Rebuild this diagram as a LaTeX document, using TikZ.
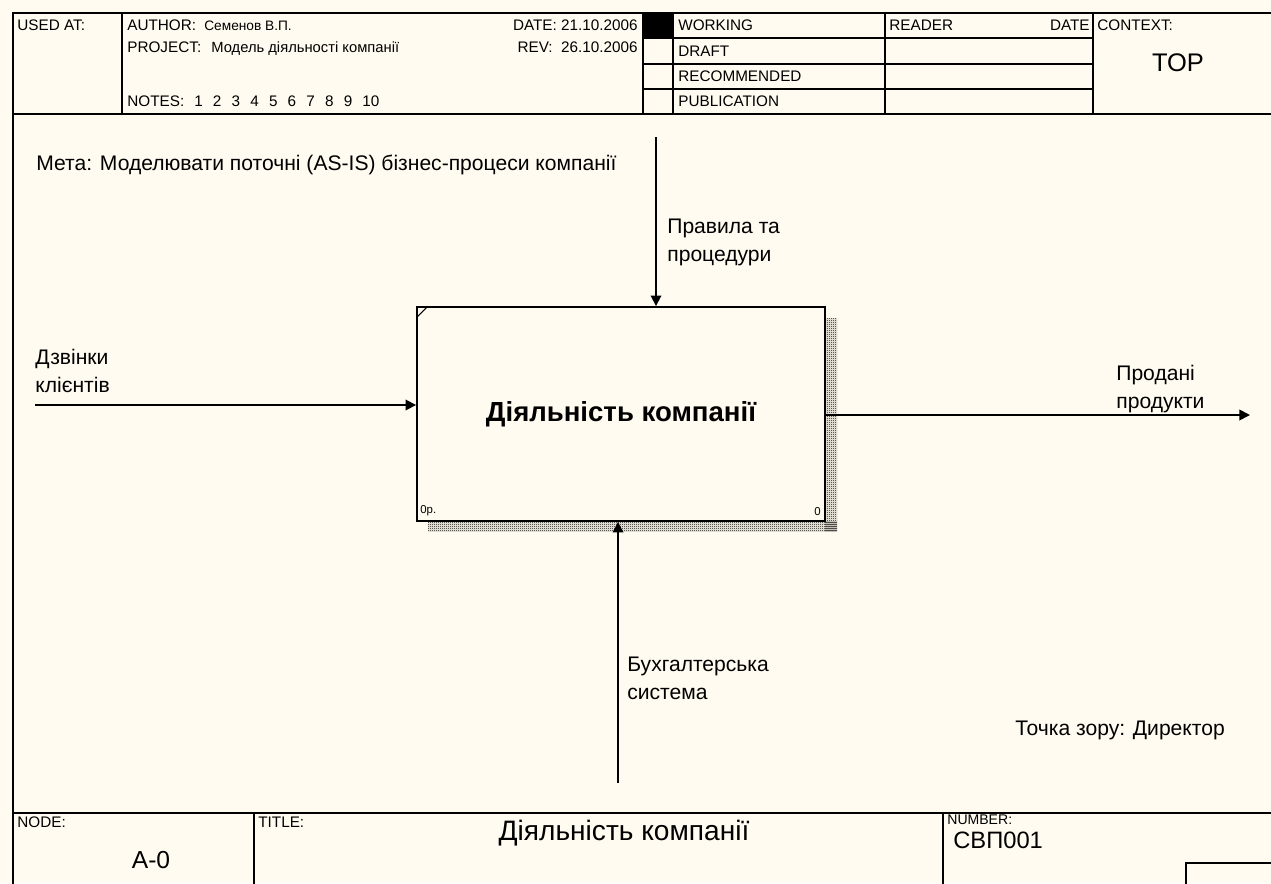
\documentclass[tikz,border=0pt]{standalone}
\usepackage{fontspec}
\setmainfont{Liberation Sans}
\usetikzlibrary{arrows.meta,patterns}
\definecolor{bgc}{RGB}{255,251,240}
\pgfdeclarepatternformonly{finecheck}{\pgfpointorigin}{\pgfpoint{1.14pt}{1.14pt}}{\pgfpoint{1.14pt}{1.14pt}}{%
  \pgfpathrectangle{\pgfpointorigin}{\pgfpoint{0.57pt}{0.57pt}}%
  \pgfpathrectangle{\pgfpoint{0.57pt}{0.57pt}}{\pgfpoint{0.57pt}{0.57pt}}%
  \pgfusepath{fill}}
\tikzset{
  hdr/.style={font=\fontsize{8.7}{10}\selectfont, anchor=west, inner sep=0pt},
  hdrr/.style={font=\fontsize{8.7}{10}\selectfont, anchor=east, inner sep=0pt},
  hdrv/.style={font=\fontsize{8.4}{9}\selectfont, anchor=base west, inner sep=0pt},
  lbl/.style={font=\fontsize{12}{15.9}\selectfont, anchor=north west, align=left, inner sep=0pt},
  big/.style={font=\fontsize{16}{18}\selectfont, inner sep=0pt},
  frm/.style={line width=1.1pt},
  arr/.style={line width=1pt, -{Triangle[length=6pt,width=6pt]}},
  actbox/.style={draw, line width=1.1pt, fill=bgc, minimum width=8.16cm, minimum height=4.28cm, inner sep=0pt,
    font=\bfseries\fontsize{15.7}{18}\selectfont},
}
\begin{document}
\begin{tikzpicture}[x=0.02cm,y=-0.02cm]
\useasboundingbox (0,0) rectangle (1271,883);
\clip (0,0) rectangle (1271,883);
\fill[bgc] (0,0) rectangle (1271,883);
% frame
\draw[frm] (13,13) rectangle (1300,900);
\draw[frm] (13,114) -- (1300,114);
\draw[frm] (122,13) -- (122,114);
\draw[frm] (643,13) -- (643,114);
\draw[frm] (673,13) -- (673,114);
\draw[frm] (885,13) -- (885,114);
\draw[frm] (1093,13) -- (1093,114);
\foreach \yy in {38,64,89} \draw[frm] (643,\yy) -- (1093,\yy);
\fill (643,13) rectangle (673,38);
% header texts
\node[hdr] (usedat) at (17,25) {USED AT:};
\node[hdr] (author) at (127,25) {AUTHOR:};
\node[hdrv, font=\fontsize{7.8}{9}\selectfont] (authorv) at (204,30.5) {Семенов В.П.};
\node[hdr] (project) at (127,47) {PROJECT:};
\node[hdrv] (projectv) at (211,52.5) {Модель діяльності компанії};
\node[hdr] (notes) at (127,101) {NOTES:\hspace{5.7pt}1\hspace{5.8pt}2\hspace{5.8pt}3\hspace{5.8pt}4\hspace{5.8pt}5\hspace{5.8pt}6\hspace{5.8pt}7\hspace{5.8pt}8\hspace{5.8pt}9\hspace{5.8pt}10};
\node[hdrr] (date) at (638,25) {DATE: 21.10.2006};
\node[hdrr] (rev) at (638,47) {REV:\ \ 26.10.2006};
\node[hdr] (working) at (678,25) {WORKING};
\node[hdr] (draft) at (678,51) {DRAFT};
\node[hdr] (recom) at (678,76) {RECOMMENDED};
\node[hdr] (publ) at (678,101) {PUBLICATION};
\node[hdr] (reader) at (889,25) {READER};
\node[hdrr] (rdate) at (1090,25) {DATE};
\node[hdr] (context) at (1097,25) {CONTEXT:};
\node[font=\fontsize{14.5}{16}\selectfont, inner sep=0pt] (top) at (1178,63) {TOP};
% purpose
\node[lbl] (meta) at (36,154.5) {Мета: Моделювати поточні (AS-IS) бізнес-процеси компанії};
% shadow and activity box
\fill[pattern=finecheck] (825,318) rectangle (837,531);
\fill[pattern=finecheck] (428,521) rectangle (837,531);
\node[actbox] (act) at (621,414) {\raisebox{3pt}{Діяльність компанії}};
\draw[line width=0.6pt] (417,317) -- (427,307);
\node[font=\fontsize{6.5}{8}\selectfont, anchor=south west, inner sep=0pt] (opr) at (420,516) {0р.};
\node[font=\fontsize{6.5}{8}\selectfont, anchor=south east, inner sep=0pt] (num0) at (821,516) {0};
% arrows
\coordinate (cin) at (656,137);
\draw[arr] (cin) -- (cin |- act.north);
\node[lbl] (ctl) at (667,218.5) {Правила та\\процедури};
\coordinate (iin) at (35,405);
\draw[arr] (iin) -- (iin -| act.west);
\node[lbl] (inl) at (35,348.5) {Дзвінки\\клієнтів};
\coordinate (oout) at (1250,415);
\draw[arr] (oout -| act.east) -- (oout);
\node[lbl] (outl) at (1116,364.5) {Продані\\продукти};
\coordinate (mst) at (618,783);
\draw[arr] (mst) -- (mst |- act.south);
\node[lbl] (mecl) at (627,656.5) {Бухгалтерська\\система};
\node[lbl] (view) at (1015,720.5) {Точка зору: Директор};
% footer
\draw[frm] (13,813) -- (1300,813);
\draw[frm] (254,813) -- (254,900);
\draw[frm] (943,813) -- (943,900);
\draw[frm] (1186,863) rectangle (1300,900);
\node[hdr] (nodel) at (17,822) {NODE:};
\node[hdr] (titlel) at (258,822) {TITLE:};
\node[hdr, font=\fontsize{8}{9}\selectfont] (numl) at (947,820) {NUMBER:};
\node[big] (ttl) at (624,833) {Діяльність компанії};
\node[big, font=\fontsize{14}{16}\selectfont] (a0) at (151,860) {A-0};
\node[big, font=\fontsize{13.5}{16}\selectfont, anchor=west] (svp) at (953,840) {СВП001};
\end{tikzpicture}
\end{document}
